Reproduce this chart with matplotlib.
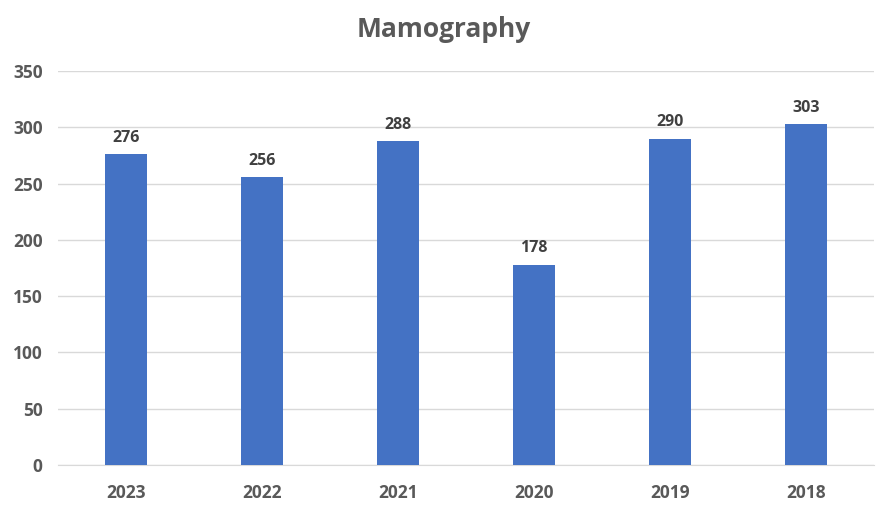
import matplotlib.pyplot as plt

# Data
years = ['2023', '2022', '2021', '2020', '2019', '2018']
counts = [276, 256, 288, 178, 290, 303]
y_ticks = [0, 50, 100, 150, 200, 250, 300, 350]

plt.rcParams['font.family'] = ['Open Sans', 'DejaVu Sans']
text_grey = '#595959'

fig = plt.figure(figsize=(8.87, 5.15), dpi=100)
ax = fig.add_axes([0.0654, 0.097, 0.92, 0.765])

bars = ax.bar(years, counts, width=0.31, color='#4472C4', zorder=3)

# value labels above each bar
for rect, val in zip(bars, counts):
    ax.annotate(str(val), (rect.get_x() + rect.get_width() / 2, val),
                xytext=(0, 6), textcoords='offset points', ha='center', va='bottom',
                fontsize=11.5, fontweight='bold', color='#404040')

ax.set_ylim(0, 350)
ax.set_xlim(-0.5, len(years) - 0.5)
ax.set_yticks(y_ticks)
ax.grid(axis='y', color='#d9d9d9', linewidth=1, zorder=0)

for side in ['top', 'right', 'left']:
    ax.spines[side].set_visible(False)
ax.spines['bottom'].set_color('#d9d9d9')

ax.tick_params(axis='both', length=0, labelsize=12.5, labelcolor=text_grey)
ax.tick_params(axis='x', pad=14)
ax.tick_params(axis='y', pad=11)
for lbl in ax.get_xticklabels() + ax.get_yticklabels():
    lbl.set_fontweight('bold')

fig.text(0.5, 0.942, 'Mamography', ha='center', va='center',
         fontsize=19, fontweight='bold', color=text_grey)

fig.savefig('out.png', dpi=100)
